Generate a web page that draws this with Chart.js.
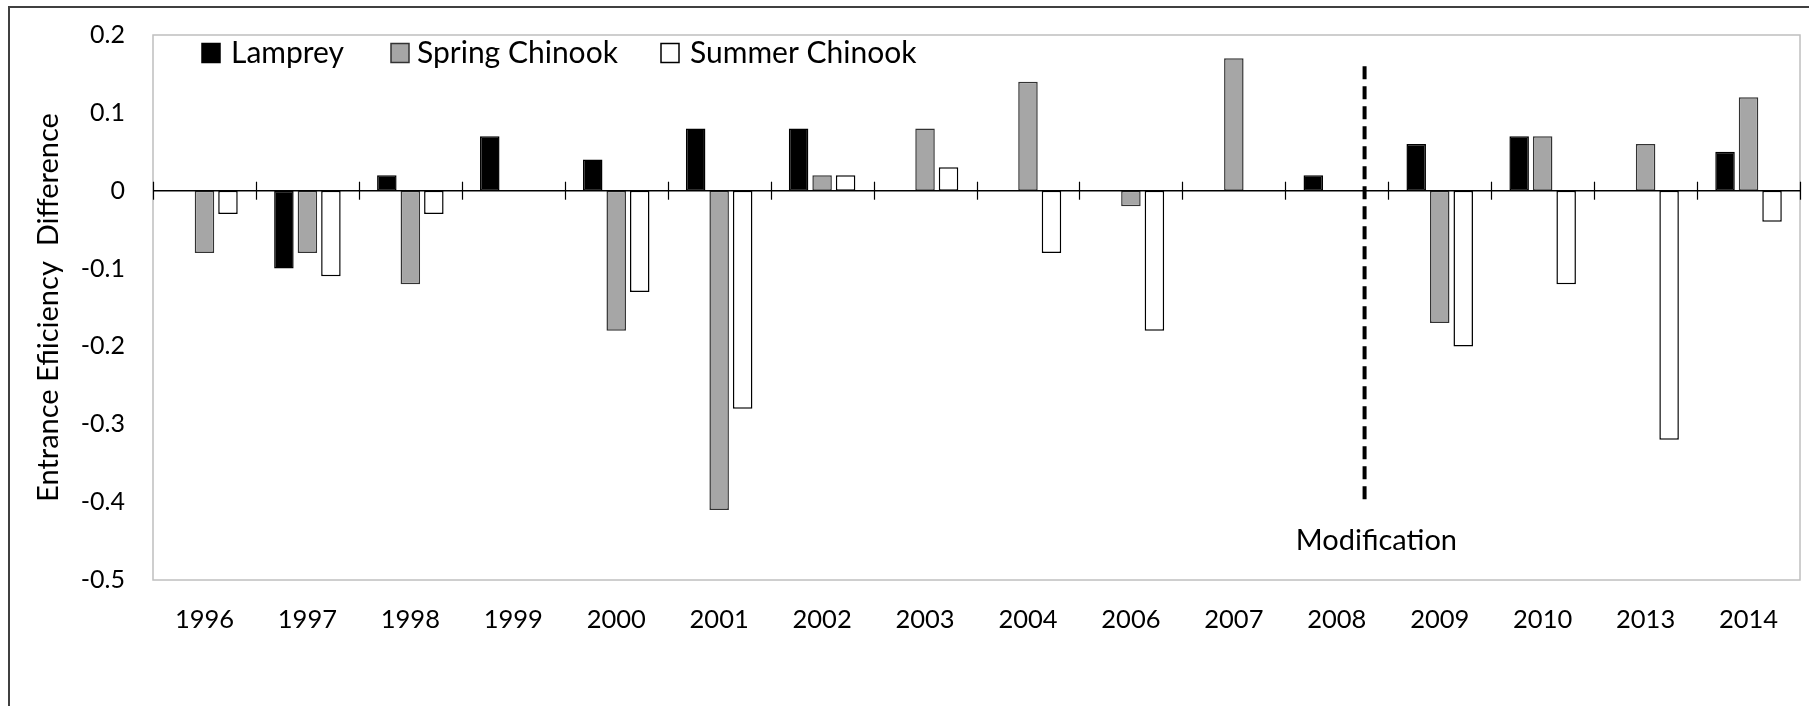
<!DOCTYPE html>
<html><head><meta charset="utf-8">
<script src="https://cdn.jsdelivr.net/npm/chart.js@4.4.1/dist/chart.umd.min.js"></script>
<style>html,body{margin:0;padding:0;background:#fff}#wrap{width:1809px;height:706px;position:relative}</style>
</head><body><div id="wrap"><canvas id="c" width="1809" height="706"></canvas></div>
<script>
const years = ['1996','1997','1998','1999','2000','2001','2002','2003','2004','2006','2007','2008','2009','2010','2013','2014'];
const lamprey       = [0, -0.10, 0.02, 0.07, 0.04, 0.08, 0.08, 0, 0, 0, 0, 0.02, 0.06, 0.07, 0, 0.05];
const springChinook = [-0.08, -0.08, -0.12, 0, -0.18, -0.41, 0.02, 0.08, 0.14, -0.02, 0.17, 0, -0.17, 0.07, 0.06, 0.12];
const summerChinook = [-0.03, -0.11, -0.03, 0, -0.13, -0.28, 0.02, 0.03, -0.08, -0.18, 0, 0, -0.20, -0.12, -0.32, -0.04];
const yMin = -0.5, yMax = 0.2, yStep = 0.1;
const modificationAt = 11.27;      // category position of the dashed line
const modificationTop = 0.16, modificationBottom = -0.40;
const modificationLabel = 'Modification';
const modificationLabelPos = [11.385, -0.45];

const FONT = 'Lato, "Open Sans", sans-serif';

const decor = {
  id: 'decor',
  beforeDatasetsDraw(chart) {
    const {ctx, chartArea: a} = chart;
    ctx.save();
    ctx.strokeStyle = '#404040'; ctx.lineWidth = 2;
    ctx.beginPath(); ctx.moveTo(9, 706); ctx.lineTo(9, 7); ctx.lineTo(1809, 7); ctx.stroke();
    ctx.strokeStyle = '#bfbfbf'; ctx.lineWidth = 1.5;
    ctx.strokeRect(a.left, a.top, a.right - a.left, a.bottom - a.top);
    ctx.restore();
  },
  afterDatasetsDraw(chart) {
    const {ctx, chartArea: a, scales: {x, y}} = chart;
    ctx.save();
    const y0 = y.getPixelForValue(0);
    ctx.strokeStyle = '#000'; ctx.lineWidth = 1.5;
    ctx.beginPath(); ctx.moveTo(a.left, y0); ctx.lineTo(a.right, y0); ctx.stroke();
    ctx.lineWidth = 1.2;
    for (let i = 0; i <= years.length; i++) {
      const px = Math.round(x.getPixelForValue(i - 0.5)) + 0.5;
      ctx.beginPath(); ctx.moveTo(px, y0 - 9); ctx.lineTo(px, y0 + 9); ctx.stroke();
    }
    // dashed modification line
    const mx = x.getPixelForValue(modificationAt);
    ctx.setLineDash([13, 7]); ctx.lineWidth = 4;
    ctx.beginPath(); ctx.moveTo(mx, y.getPixelForValue(modificationTop)); ctx.lineTo(mx, y.getPixelForValue(modificationBottom)); ctx.stroke();
    ctx.setLineDash([]);
    ctx.fillStyle = '#000'; ctx.font = '29px ' + FONT; ctx.textAlign = 'center'; ctx.textBaseline = 'middle';
    ctx.fillText(modificationLabel, x.getPixelForValue(modificationLabelPos[0]), y.getPixelForValue(modificationLabelPos[1]));
    // legend
    const boxX = [202, 391, 661], textX = [231, 417, 690];
    ctx.font = '30px ' + FONT; ctx.textAlign = 'left';
    chart.data.datasets.forEach((ds, i) => {
      ctx.fillStyle = ds.backgroundColor; ctx.strokeStyle = ds.borderColor; ctx.lineWidth = 1.5;
      ctx.fillRect(boxX[i], 43.5, 18, 19); ctx.strokeRect(boxX[i], 43.5, 18, 19);
      ctx.fillStyle = '#000';
      ctx.fillText(ds.label, textX[i], 53);
    });
    ctx.restore();
  }
};

new Chart(document.getElementById('c'), {
  type: 'bar',
  data: {
    labels: years,
    datasets: [
      {label: 'Lamprey', data: lamprey, backgroundColor: '#000000', borderColor: '#000000'},
      {label: 'Spring Chinook', data: springChinook, backgroundColor: '#a6a6a6', borderColor: '#333333'},
      {label: 'Summer Chinook', data: summerChinook, backgroundColor: '#ffffff', borderColor: '#000000'}
    ]
  },
  options: {
    responsive: false, animation: false, devicePixelRatio: 1,
    layout: {padding: {top: 35, right: 9, left: 0, bottom: 0}},
    datasets: {bar: {categoryPercentage: 0.685, barPercentage: 0.83, borderWidth: 1.5, borderSkipped: false}},
    plugins: {legend: {display: false}, tooltip: {enabled: false}},
    scales: {
      x: {
        grid: {display: false}, border: {display: false},
        ticks: {color: '#000', font: {family: FONT, size: 25.5}, padding: 16, maxRotation: 0, autoSkip: false},
        afterFit(s) { s.height = 126; }
      },
      y: {
        min: yMin, max: yMax,
        grid: {display: false, drawTicks: true, tickLength: 24}, border: {display: false},
        ticks: {stepSize: yStep, color: '#000', font: {family: FONT, size: 25}, padding: 4,
          callback: v => String(Number(v.toFixed(1)))},
        title: {display: true, text: 'Entrance Efiiciency  Difference', color: '#000',
          font: {family: FONT, size: 29}, padding: {top: 31, bottom: 0}},
        afterFit(s) { s.width = 153; }
      }
    }
  },
  plugins: [decor]
});
</script></body></html>
